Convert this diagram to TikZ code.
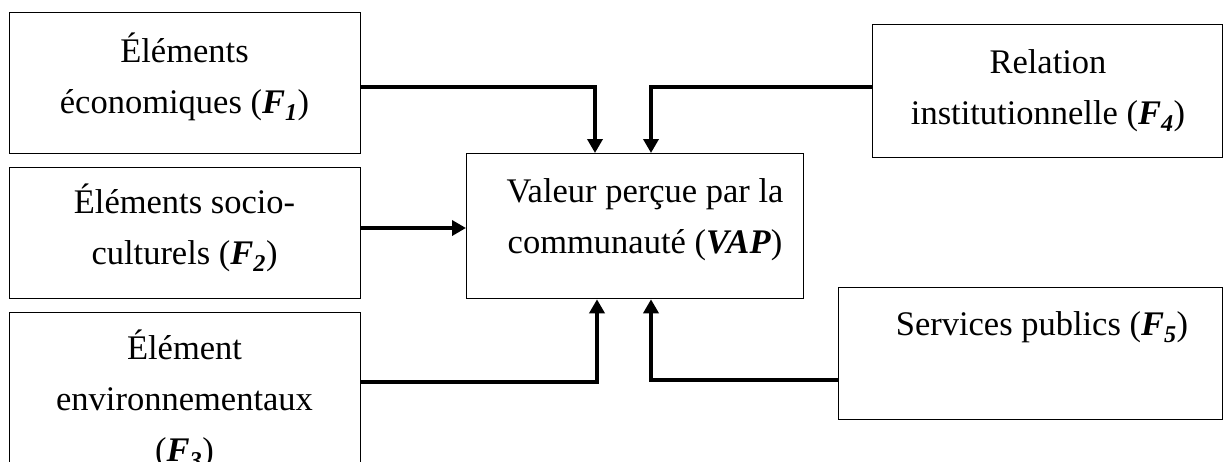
\documentclass[tikz,border=0pt]{standalone}
\usepackage{fontspec}
\setmainfont{Liberation Serif}
\usetikzlibrary{arrows.meta}
\newcommand{\Fi}[1]{{\bfseries\itshape F\textsubscript{#1}}}
\tikzset{
  box/.style={draw, line width=1.3pt, inner sep=0pt, anchor=north west},
  lbl/.style={anchor=base, inner sep=0pt, align=flush center, text width=#1,
    font=\fontsize{34.5}{51}\selectfont},
  conn/.style={line width=4pt, -{Triangle[width=15pt,length=14pt]}},
}
\begin{document}
\begin{tikzpicture}[x=1pt,y=-1pt]
\useasboundingbox (0,0) rectangle (1223,461);
% boxes
\node[box, minimum width=351pt, minimum height=141pt] (f1) at (9,12) {};
\node[box, minimum width=351pt, minimum height=131pt] (f2) at (9,167) {};
\node[box, minimum width=351pt, minimum height=170pt] (f3) at (9,312) {};
\node[box, minimum width=337pt, minimum height=145pt] (vap) at (466,153) {};
\node[box, minimum width=350pt, minimum height=133pt] (f4) at (872,24) {};
\node[box, minimum width=384pt, minimum height=132pt] (f5) at (838,287) {};
% labels
\node[lbl=340pt] (t1) at (184.5,62) {Éléments\\économiques (\Fi{1})};
\node[lbl=340pt] (t2) at (184.5,213) {Éléments socio-\\culturels (\Fi{2})};
\node[lbl=340pt] (t3) at (184.5,359) {Élément\\environnementaux\\(\Fi{3})};
\node[lbl=330pt] (tv) at (645,202) {Valeur perçue par la\\communauté (\textbf{\textit{VAP}})};
\node[lbl=340pt] (t4) at (1048,73) {Relation\\institutionnelle (\Fi{4})\hspace*{18pt}};
\node[lbl=370pt] (t5) at (1042,335) {Services publics (\Fi{5})};
% connector corners
\coordinate (c1) at (595,87);
\coordinate (c4) at (651,87);
\coordinate (c3) at (597,382);
\coordinate (c5) at (651,380);
\draw[conn] (f1.east |- c1) -- (c1) -- (c1 |- vap.north);
\draw[conn] (f4.west |- c4) -- (c4) -- (c4 |- vap.north);
\draw[conn] (f2.east |- 0,228) -- (vap.west |- 0,228);
\draw[conn] (f3.east |- c3) -- (c3) -- (c3 |- vap.south);
\draw[conn] (f5.west |- c5) -- (c5) -- (c5 |- vap.south);
\end{tikzpicture}
\end{document}
